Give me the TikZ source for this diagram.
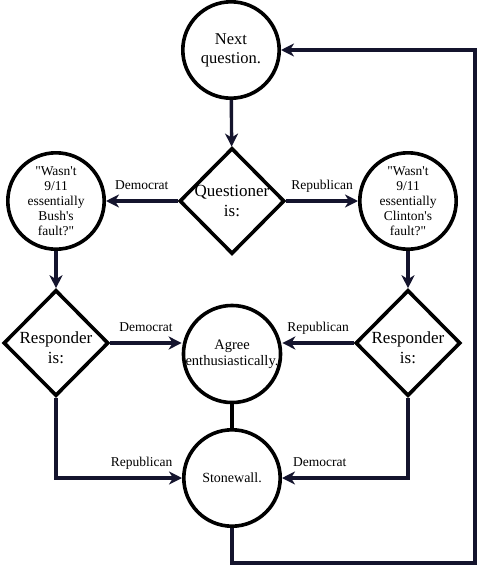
\documentclass[tikz,border=0pt]{standalone}
\usepackage{fontspec}
\setmainfont{Liberation Serif}
\usetikzlibrary{shapes.geometric,arrows.meta}
\definecolor{wire}{RGB}{20,20,45}
\newcommand{\dq}{\textquotedbl}
\newcommand{\sq}{\textquotesingle}
\begin{document}
\begin{tikzpicture}[x=1pt,y=-1pt,
    bubble/.style={circle,draw,line width=3.6pt,minimum size=96.4pt,inner sep=0pt,align=center,font=\fontsize{13.5}{15}\selectfont},
    choice/.style={diamond,draw,line width=3.6pt,minimum width=105pt,minimum height=106pt,inner sep=0pt},
    asks/.style={align=center,font=\fontsize{17}{20}\selectfont},
    flow/.style={line width=3.4pt,draw=wire,-{Stealth[length=13pt,width=13pt,inset=4pt]}},
    link/.style={line width=3.4pt,draw=black},
    tag/.style={font=\fontsize{13.5}{15}\selectfont,text height=9.5pt,text depth=3pt,inner sep=2pt,above=5pt}]
    \useasboundingbox (0,0) rectangle (479,565);
    \node[bubble,font=\fontsize{16.5}{19}\selectfont] (next) at (231,50) {Next\\question.};
    \node[choice,label={[asks]center:{Questioner\\is:}}] (asker) at (232,201) {};
    \node[bubble] (bush) at (56,201) {\dq Wasn\sq t\\9/11\\essentially\\Bush\sq s\\fault?\dq};
    \node[bubble] (clinton) at (408,201) {\dq Wasn\sq t\\9/11\\essentially\\Clinton\sq s\\fault?\dq};
    \node[choice,label={[asks,yshift=-5pt]center:{Responder\\is:}}] (respL) at (56,343) {};
    \node[choice,label={[asks,yshift=-5pt]center:{Responder\\is:}}] (respR) at (408,343) {};
    \node[bubble,font=\fontsize{14.5}{16}\selectfont] (agree) at (232,354) {Agree\\enthusiastically.};
    \node[bubble,font=\fontsize{14}{16}\selectfont] (stone) at (232,478) {Stonewall.};
    \coordinate (dropS) at (232,563);
    \coordinate (turnS) at (475,563);
    \draw[flow] (next) -- (asker);
    \draw[flow] (asker) -- node[tag]{Democrat} (bush);
    \draw[flow] (asker) -- node[tag]{Republican} (clinton);
    \draw[flow] (bush) -- (respL);
    \draw[flow] (clinton) -- (respR);
    \draw[flow] (respL.east) -- node[tag]{Democrat} (respL.east -| agree.west);
    \draw[flow] (respR.west) -- node[tag]{Republican} (respR.west -| agree.east);
    \draw[link] (agree) -- (stone);
    \draw[flow] (respL.south) |- node[tag,pos=0.84]{Republican} (stone.west);
    \draw[flow] (respR.south) |- node[tag,pos=0.85]{Democrat} (stone.east);
    \draw[flow] (stone.south) -- (dropS) -- (turnS) |- (next.east);
\end{tikzpicture}
\end{document}
